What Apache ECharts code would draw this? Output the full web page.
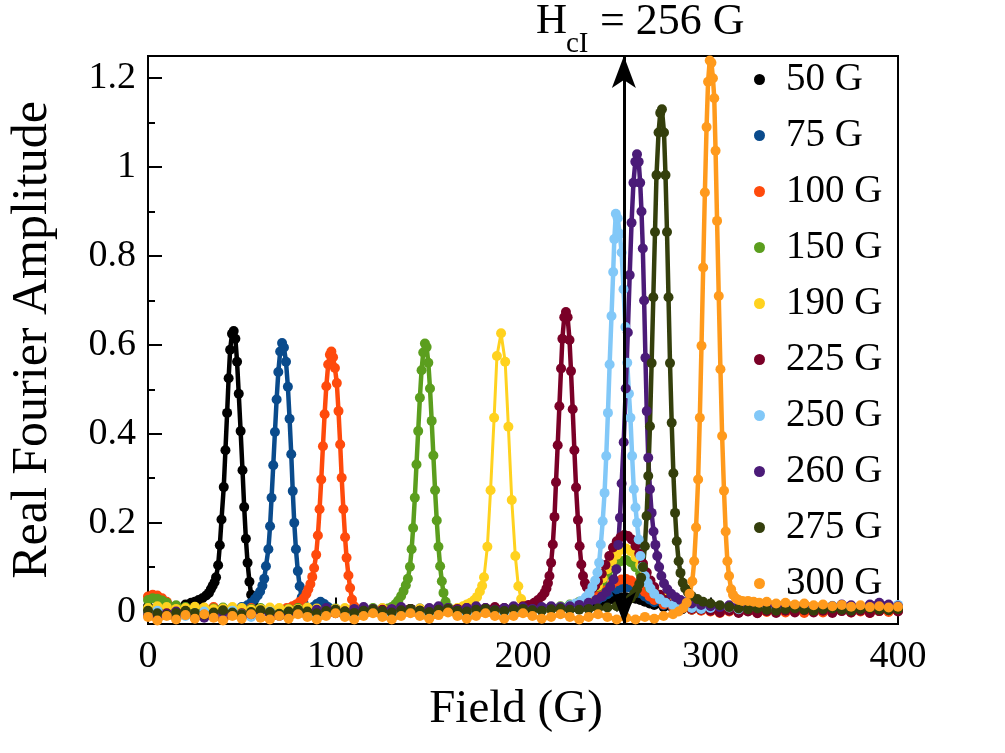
<!DOCTYPE html>
<html>
<head>
<meta charset="utf-8">
<script src="https://cdn.jsdelivr.net/npm/echarts@6/dist/echarts.min.js"></script>
<style>
  html, body { margin: 0; padding: 0; background: #fff; }
  #chart { width: 1005px; height: 753px; }
</style>
</head>
<body>
<div id="chart"></div>
<script>
var FONT = "'Liberation Serif', 'Times New Roman', serif";

var names = ['50 G', '75 G', '100 G', '150 G', '190 G', '225 G', '250 G', '260 G', '275 G', '300 G'];
var colors = ['#000000', '#0a4b8c', '#ff4a0c', '#5b9e1e', '#ffd21f', '#7a0027', '#82c8f8', '#4b1b78', '#343f0c', '#ff9a1c'];
var xTicks = [0, 100, 200, 300, 400];
var yTicks = [0, 0.2, 0.4, 0.6, 0.8, 1, 1.2];
var yMinorTicks = [0.1, 0.3, 0.5, 0.7, 0.9, 1.1];
var arrowField = 253.8;
var yMin = -0.028;
var yMax = 1.25;

var s50 = [[0,0.012],[5,0.008],[10,0.01],[15,0.012],[20,0.016],[23,0.02],[25,0.022],[27,0.026],[29,0.03],[31,0.036],[32.5,0.042],[33.5,0.05],[34.5,0.058],[35.5,0.066],[36.3,0.077],[37.4,0.104],[38.3,0.149],[39.2,0.207],[40.4,0.28],[41.3,0.363],[42.2,0.447],[43,0.525],[43.8,0.589],[44.8,0.625],[45.7,0.631],[46.6,0.614],[47.5,0.562],[48.4,0.49],[49.4,0.406],[50.4,0.318],[51.3,0.235],[52.2,0.164],[53.1,0.11],[54.1,0.067],[55,0.038],[56,0.018],[57,0.006],[58.5,0],[60,-0.004],[65,0.002],[70,0.004],[75,0.003],[80,0.005],[85,0.004],[90,0.006],[95,0.004],[100,0.005],[105,0.003],[110,0.004],[115,0.006],[120,0.005],[125,0.004],[130,0.006],[135,0.005],[140,0.003],[145,0.004],[150,0.005],[155,0.004],[160,0.006],[165,0.004],[170,0.003],[175,0.005],[180,0.004],[185,0.006],[190,0.005],[195,0.004],[200,0.003],[205,0.005],[210,0.004],[215,0.005],[220,0.006],[225,0.008],[230,0.01],[235,0.014],[240,0.019],[242.5,0.022],[245,0.025],[247.5,0.028],[250,0.03],[252.5,0.032],[255,0.032],[257.5,0.031],[260,0.029],[262.5,0.026],[265,0.022],[267.5,0.018],[270,0.015],[275,0.01],[280,0.007],[285,0.005],[290,0.004],[295,0.003],[300,0.004],[305,0.003],[310,0.004],[315,0.002],[320,0.003],[325,0.004],[330,0.002],[335,0.003],[340,0.004],[345,0.002],[350,0.003],[355,0.005],[360,0.003],[365,0.002],[370,0.004],[375,0.003],[380,0.002],[385,0.004],[390,0.003],[395,0.002],[400,0.003]];

var s75 = [[0,0.006],[5,0.01],[10,0.008],[15,0.004],[20,0.006],[25,0.009],[30,0.006],[35,0.004],[40,0.007],[45,0.006],[50,0.01],[53,0.014],[55,0.02],[57,0.028],[58.5,0.036],[59.8,0.045],[61,0.058],[62,0.074],[62.9,0.102],[64.2,0.14],[65.1,0.192],[65.9,0.256],[66.8,0.329],[67.7,0.404],[68.6,0.477],[69.5,0.539],[70.5,0.585],[71.5,0.604],[72.5,0.594],[73.6,0.562],[74.6,0.506],[75.5,0.434],[76.4,0.354],[77.2,0.271],[78,0.2],[78.9,0.14],[79.9,0.091],[80.9,0.057],[82,0.032],[83,0.018],[84.5,0.008],[86,0.005],[88,0.01],[90,0.017],[92,0.022],[94,0.017],[96,0.01],[98,0.004],[100,0.002],[105,0.004],[110,0.006],[115,0.003],[120,0.005],[125,0.007],[130,0.004],[135,0.002],[140,0.005],[145,0.007],[150,0.004],[155,0.003],[160,0.006],[165,0.004],[170,0.002],[175,0.005],[180,0.007],[185,0.004],[190,0.003],[195,0.006],[200,0.005],[205,0.003],[210,0.006],[215,0.005],[220,0.008],[225,0.01],[230,0.013],[235,0.019],[240,0.027],[242.5,0.033],[245,0.039],[247.5,0.045],[250,0.05],[252.5,0.054],[255,0.055],[257.5,0.053],[260,0.048],[262.5,0.041],[265,0.034],[267.5,0.027],[270,0.021],[275,0.014],[280,0.009],[285,0.007],[290,0.005],[295,0.004],[300,0.005],[305,0.003],[310,0.004],[315,0.006],[320,0.004],[325,0.003],[330,0.005],[335,0.004],[340,0.002],[345,0.004],[350,0.006],[355,0.003],[360,0.004],[365,0.006],[370,0.004],[375,0.002],[380,0.004],[385,0.005],[390,0.003],[395,0.004],[400,0.005]];

var s100 = [[0,0.034],[2.5,0.038],[5,0.036],[7.5,0.03],[10,0.022],[15,0.012],[20,0.006],[25,0.004],[30,0.008],[35,0.01],[40,0.006],[45,0.004],[50,0.006],[55,0.008],[60,0.005],[65,0.004],[70,0.006],[74,0.008],[77,0.012],[79,0.016],[81,0.022],[83,0.03],[84.5,0.04],[85.5,0.05],[86.6,0.062],[87.6,0.078],[88.6,0.098],[89.7,0.128],[90.6,0.171],[91.5,0.23],[92.4,0.297],[93.3,0.372],[94.2,0.444],[95.1,0.507],[96.1,0.556],[97,0.578],[97.8,0.585],[98.7,0.572],[99.7,0.548],[100.7,0.514],[101.6,0.451],[102.5,0.376],[103.3,0.301],[104.2,0.23],[105.1,0.167],[105.9,0.121],[106.9,0.081],[107.8,0.053],[108.8,0.027],[110,0.012],[111.5,0.004],[113,0],[115,-0.002],[120,0.003],[125,0.005],[130,0.002],[135,0.004],[140,0.006],[145,0.003],[150,0.001],[155,0.004],[160,0.006],[165,0.003],[170,0.002],[175,0.005],[180,0.006],[185,0.003],[190,0.002],[195,0.005],[200,0.006],[205,0.003],[210,0.004],[215,0.007],[220,0.009],[225,0.012],[230,0.016],[235,0.024],[240,0.036],[242.5,0.044],[245,0.053],[247.5,0.062],[250,0.068],[252.5,0.072],[255,0.073],[257.5,0.07],[260,0.063],[262.5,0.054],[265,0.044],[267.5,0.034],[270,0.026],[275,0.016],[280,0.01],[285,0.007],[290,0.004],[295,0.002],[300,0],[305,-0.003],[310,0],[315,-0.002],[320,0.001],[325,-0.003],[330,-0.001],[335,0.002],[340,-0.002],[345,0],[350,-0.003],[355,0.001],[360,-0.002],[365,0],[370,0.002],[375,-0.002],[380,0],[385,-0.003],[390,0.001],[395,-0.001],[400,0.002]];

var s150 = [[0,0.026],[2.5,0.03],[5,0.029],[7.5,0.025],[10,0.02],[15,0.014],[20,0.01],[25,0.006],[30,0.004],[35,0.007],[40,0.009],[45,0.005],[50,0.003],[55,0.006],[60,0.008],[65,0.005],[70,0.003],[75,0.006],[80,0.008],[85,0.004],[90,0.002],[95,0.005],[100,0.007],[105,0.004],[110,0.003],[115,0.006],[120,0.008],[125,0.005],[128,0.007],[130,0.01],[132,0.017],[133.5,0.025],[135,0.035],[136.3,0.046],[137.5,0.059],[138.6,0.074],[139.7,0.101],[140.6,0.14],[141.4,0.188],[142.3,0.256],[143.2,0.331],[144.1,0.406],[145,0.481],[145.9,0.543],[146.8,0.583],[147.7,0.603],[148.6,0.595],[149.5,0.56],[150.4,0.502],[151.3,0.429],[152.2,0.351],[153.1,0.273],[154,0.205],[154.9,0.146],[155.8,0.102],[156.7,0.068],[157.6,0.042],[158.7,0.022],[160,0.01],[162,0.004],[165,0.003],[170,0.005],[175,0.003],[180,0.002],[185,0.005],[190,0.006],[195,0.004],[200,0.003],[205,0.006],[210,0.008],[215,0.01],[220,0.012],[225,0.016],[230,0.022],[235,0.036],[240,0.056],[242.5,0.069],[245,0.083],[247.5,0.097],[250,0.107],[252.5,0.114],[255,0.116],[257.5,0.111],[260,0.1],[262.5,0.086],[265,0.069],[267.5,0.053],[270,0.041],[275,0.025],[280,0.016],[285,0.011],[290,0.008],[295,0.006],[300,0.007],[305,0.01],[310,0.008],[315,0.005],[320,0.008],[325,0.011],[330,0.008],[335,0.005],[340,0.008],[345,0.012],[350,0.009],[355,0.006],[360,0.009],[365,0.012],[370,0.009],[375,0.006],[380,0.01],[385,0.013],[390,0.01],[395,0.007],[400,0.01]];

var s190 = [[0,0.008],[5,0.012],[10,0.01],[15,0.006],[20,0.008],[25,0.011],[30,0.009],[35,0.005],[40,0.007],[45,0.01],[50,0.008],[55,0.004],[60,0.006],[65,0.009],[70,0.008],[75,0.005],[80,0.006],[85,0.009],[90,0.007],[95,0.004],[100,0.006],[105,0.008],[110,0.006],[115,0.003],[120,0.005],[125,0.008],[130,0.006],[135,0.004],[140,0.005],[145,0.007],[150,0.006],[155,0.004],[160,0.006],[165,0.008],[168,0.012],[170,0.016],[172,0.02],[174,0.026],[175.5,0.033],[177,0.045],[178.2,0.058],[179.2,0.077],[181,0.146],[182.7,0.273],[184.6,0.436],[186.1,0.575],[188.3,0.626],[190.5,0.562],[192.2,0.416],[194,0.251],[195.9,0.125],[197.5,0.057],[199,0.028],[200.5,0.013],[202,0.006],[205,0.003],[210,0.004],[215,0.006],[220,0.008],[225,0.012],[230,0.02],[235,0.034],[240,0.058],[242.5,0.075],[245,0.095],[247.5,0.113],[250,0.128],[252.5,0.139],[255,0.142],[257.5,0.136],[260,0.123],[262.5,0.105],[265,0.086],[267.5,0.068],[270,0.053],[275,0.033],[280,0.022],[285,0.016],[290,0.012],[295,0.01],[300,0.009],[310,0.008],[320,0.008],[330,0.007],[340,0.008],[350,0.007],[360,0.008],[370,0.007],[380,0.008],[390,0.007],[400,0.008]];

var s225 = [[0,-0.006],[5,-0.01],[10,-0.004],[15,-0.012],[20,-0.008],[25,-0.014],[30,-0.006],[35,-0.012],[40,-0.016],[45,-0.008],[50,-0.004],[55,-0.01],[60,-0.006],[65,-0.002],[70,-0.008],[75,-0.004],[80,0],[85,-0.006],[90,-0.002],[95,0.002],[100,-0.004],[105,0],[110,0.004],[115,-0.002],[120,0.002],[125,0.004],[130,0],[135,0.004],[140,0.006],[145,0.002],[150,0.005],[155,0.007],[160,0.004],[165,0.006],[170,0.008],[175,0.005],[180,0.008],[185,0.01],[190,0.008],[195,0.01],[200,0.012],[203,0.015],[206,0.02],[208,0.026],[210,0.034],[211.5,0.042],[212.5,0.052],[213.3,0.064],[214.1,0.08],[215,0.11],[215.9,0.151],[216.8,0.213],[217.6,0.291],[218.5,0.374],[219.4,0.462],[220.3,0.547],[221,0.614],[222,0.662],[222.9,0.674],[223.8,0.662],[224.8,0.611],[225.6,0.541],[226.5,0.455],[227.4,0.363],[228.3,0.279],[229.3,0.206],[230.2,0.147],[231.1,0.106],[232,0.08],[233,0.064],[234,0.055],[235.5,0.05],[237,0.052],[238.5,0.058],[240,0.068],[242,0.085],[244,0.105],[246,0.125],[248,0.144],[250,0.158],[252,0.167],[254,0.172],[256,0.17],[258,0.162],[260,0.148],[262,0.13],[264,0.108],[266,0.088],[268,0.07],[270,0.055],[273,0.038],[276,0.026],[280,0.016],[285,0.01],[290,0.006],[295,0.004],[300,0.002],[305,-0.002],[310,0.002],[315,-0.003],[320,0],[325,-0.004],[330,0.001],[335,-0.003],[340,0.002],[345,-0.002],[350,0.003],[355,-0.002],[360,0.002],[365,-0.003],[370,0.001],[375,-0.002],[380,0.002],[385,-0.003],[390,0.001],[395,0.003],[400,0]];

var s250 = [[0,-0.004],[5,0.002],[10,-0.008],[15,-0.002],[20,-0.01],[25,-0.004],[30,0],[35,-0.008],[40,-0.003],[45,0.002],[50,-0.006],[55,-0.012],[60,-0.004],[65,0],[70,-0.006],[75,-0.002],[80,0.003],[85,-0.004],[90,-0.008],[95,-0.002],[100,0.002],[105,-0.003],[110,-0.006],[115,0],[120,0.004],[125,-0.002],[130,-0.005],[135,0.001],[140,0.004],[145,-0.001],[150,-0.004],[155,0.002],[160,0.005],[165,0],[170,-0.003],[175,0.002],[180,0.005],[185,0.001],[190,-0.002],[195,0.003],[200,0.005],[205,0.004],[210,0.006],[215,0.008],[220,0.01],[225,0.014],[228,0.018],[231,0.024],[233.5,0.032],[235.5,0.042],[237,0.055],[238.5,0.07],[239.7,0.088],[240.6,0.11],[241.5,0.151],[242.5,0.203],[243.5,0.267],[244.4,0.35],[245.3,0.447],[246.2,0.556],[247.2,0.665],[248.1,0.764],[248.7,0.838],[249.5,0.895],[250.5,0.885],[251.6,0.85],[252.6,0.808],[253.6,0.725],[254.6,0.64],[255.6,0.56],[256.5,0.49],[257.3,0.436],[258.2,0.35],[259.1,0.275],[260,0.234],[260.8,0.2],[261.7,0.162],[262.6,0.125],[263.6,0.1],[265,0.08],[266.5,0.064],[268,0.052],[270,0.04],[273,0.028],[276,0.02],[280,0.014],[285,0.01],[290,0.008],[295,0.006],[300,0.008],[305,0.012],[310,0.009],[315,0.005],[320,0.008],[325,0.012],[330,0.009],[335,0.005],[340,0.009],[345,0.012],[350,0.008],[355,0.005],[360,0.009],[365,0.013],[370,0.009],[375,0.006],[380,0.01],[385,0.013],[390,0.009],[395,0.012],[400,0.015]];

var s260 = [[0,-0.008],[5,-0.012],[10,-0.006],[15,0],[20,-0.004],[25,-0.01],[30,-0.014],[35,-0.008],[40,-0.002],[45,-0.006],[50,-0.012],[55,-0.006],[60,0],[65,-0.004],[70,-0.01],[75,-0.004],[80,0.002],[85,-0.002],[90,0.004],[95,0.008],[100,0.004],[105,0],[110,0.006],[115,0.01],[120,0.006],[125,0.002],[130,0.006],[135,0.01],[140,0.006],[145,0.002],[150,0.008],[155,0.012],[160,0.008],[165,0.004],[170,0.008],[175,0.012],[180,0.008],[185,0.004],[190,0.008],[195,0.012],[200,0.01],[205,0.006],[210,0.01],[215,0.012],[220,0.01],[225,0.012],[230,0.015],[235,0.02],[239,0.026],[242,0.034],[244.5,0.044],[246.5,0.056],[248.3,0.072],[249.8,0.095],[250.8,0.15],[251.7,0.211],[252.6,0.288],[253.7,0.381],[254.8,0.502],[255.9,0.628],[256.9,0.757],[257.9,0.875],[258.9,0.965],[259.9,1.012],[260.8,1.029],[261.7,1.012],[262.5,0.965],[263.2,0.9],[263.9,0.817],[264.6,0.7],[265.3,0.571],[266,0.451],[266.8,0.346],[267.7,0.275],[268.6,0.222],[269.6,0.18],[270.6,0.15],[271.6,0.125],[272.6,0.1],[273.8,0.08],[275.2,0.063],[277,0.05],[279,0.04],[281.5,0.032],[284,0.026],[287,0.021],[290,0.018],[295,0.015],[300,0.012],[305,0.01],[310,0.014],[315,0.012],[320,0.008],[325,0.012],[330,0.016],[335,0.012],[340,0.008],[345,0.012],[350,0.016],[355,0.012],[360,0.008],[365,0.012],[370,0.016],[375,0.014],[380,0.01],[385,0.016],[390,0.02],[395,0.016],[400,0.012]];

var s275 = [[0,0.002],[5,-0.004],[10,-0.008],[15,-0.003],[20,0.002],[25,-0.003],[30,-0.007],[35,-0.002],[40,0.003],[45,-0.002],[50,-0.006],[55,-0.001],[60,0.003],[65,-0.001],[70,-0.005],[75,0],[80,0.004],[85,0],[90,-0.004],[95,0.001],[100,0.004],[105,0],[110,-0.003],[115,0.002],[120,0.005],[125,0.001],[130,-0.002],[135,0.003],[140,0.006],[145,0.002],[150,-0.001],[155,0.004],[160,0.006],[165,0.002],[170,0],[175,0.004],[180,0.006],[185,0.003],[190,0.001],[195,0.005],[200,0.006],[205,0.003],[210,0.002],[215,0.005],[220,0.007],[225,0.004],[230,0.004],[235,0.006],[240,0.007],[245,0.009],[250,0.012],[253,0.016],[255.5,0.022],[257.5,0.03],[259.3,0.04],[260.8,0.05],[262,0.062],[263,0.076],[264,0.1],[265,0.147],[265.9,0.215],[266.8,0.305],[267.7,0.417],[268.6,0.559],[269.5,0.707],[270.4,0.854],[271.2,0.982],[272.3,1.078],[273.2,1.122],[274.1,1.13],[275.2,1.078],[276,0.982],[276.8,0.854],[277.6,0.707],[278.4,0.559],[279.3,0.425],[280.2,0.311],[281.1,0.222],[282,0.158],[283,0.113],[284,0.087],[285.2,0.065],[286.5,0.052],[288,0.043],[290,0.035],[293,0.028],[296,0.022],[300,0.018],[305,0.014],[310,0.01],[315,0.007],[320,0.005],[325,0.007],[330,0.004],[335,0.002],[340,0.005],[345,0.007],[350,0.004],[355,0.002],[360,0.005],[365,0.007],[370,0.004],[375,0.002],[380,0.005],[385,0.007],[390,0.004],[395,0.003],[400,0.005]];

var s300 = [[0,-0.012],[5,-0.02],[10,-0.01],[15,-0.018],[20,-0.008],[25,-0.016],[30,-0.006],[35,-0.014],[40,-0.02],[45,-0.01],[50,-0.016],[55,-0.006],[60,-0.014],[65,-0.018],[70,-0.01],[75,-0.016],[80,-0.006],[85,-0.012],[90,-0.018],[95,-0.01],[100,-0.004],[105,-0.012],[110,-0.018],[115,-0.01],[120,-0.004],[125,-0.012],[130,-0.018],[135,-0.01],[140,-0.004],[145,-0.01],[150,-0.016],[155,-0.008],[160,-0.002],[165,-0.01],[170,-0.016],[175,-0.01],[180,-0.004],[185,-0.01],[190,-0.016],[195,-0.01],[200,-0.004],[205,-0.01],[210,-0.016],[215,-0.012],[220,-0.006],[225,-0.012],[230,-0.018],[235,-0.012],[240,-0.006],[245,-0.012],[250,-0.018],[255,-0.014],[260,-0.018],[265,-0.012],[270,-0.016],[275,-0.01],[280,-0.006],[283,0],[285.5,0.008],[287.3,0.02],[288.8,0.04],[290.3,0.068],[291.3,0.113],[292.3,0.189],[293.4,0.297],[294.3,0.436],[295.2,0.598],[296.1,0.774],[297,0.943],[297.9,1.09],[298.7,1.192],[299.6,1.24],[300.5,1.235],[301.3,1.2],[302,1.155],[302.7,1.037],[303.5,0.879],[304.4,0.71],[305.3,0.545],[306.2,0.395],[307.2,0.272],[308.1,0.18],[309,0.113],[309.9,0.08],[311,0.05],[312,0.038],[313.5,0.03],[315,0.026],[317,0.024],[320,0.024],[323,0.022],[326,0.02],[330,0.022],[335,0.018],[340,0.02],[345,0.016],[350,0.018],[355,0.014],[360,0.016],[365,0.012],[370,0.015],[375,0.011],[380,0.014],[385,0.01],[390,0.012],[395,0.009],[400,0.011]];

var seriesData = [s50, s75, s100, s150, s190, s225, s250, s260, s275, s300];

var chart = echarts.init(document.getElementById('chart'), null, { renderer: 'canvas' });

var series = seriesData.map(function (d, i) {
  return {
    name: names[i],
    type: 'line',
    data: d,
    symbol: 'circle',
    symbolSize: 10,
    showAllSymbol: true,
    clip: true,
    lineStyle: { width: i === 4 ? 3 : 4.5, color: colors[i] },
    itemStyle: { color: colors[i] },
    emphasis: { disabled: true },
    z: 2
  };
});

// double arrow marking H_cI (ends kept inside the axis range, or the marker gets dropped)
series.push({
  name: 'arrow',
  type: 'line',
  data: [],
  clip: false,
  silent: true,
  z: 5,
  markLine: {
    silent: true,
    animation: false,
    symbol: ['arrow', 'arrow'],
    symbolSize: [18, 32],
    label: { show: false },
    lineStyle: { color: '#000', width: 3, type: 'solid' },
    emphasis: { disabled: true },
    data: [[{ coord: [arrowField, yMin + 0.0001] }, { coord: [arrowField, yMax - 0.0001] }]]
  }
});

var tickStyle = { color: '#000', width: 2 };

var option = {
  animation: false,
  backgroundColor: '#fff',
  grid: {
    left: 142, top: 56, width: 756, height: 568,
    show: true, borderColor: '#000', borderWidth: 2
  },
  legend: {
    data: names,
    orient: 'vertical',
    left: 754,
    top: 60,
    padding: 0,
    icon: 'circle',
    itemWidth: 11,
    itemHeight: 11,
    itemGap: 17,
    selectedMode: false,
    textStyle: { fontFamily: FONT, fontSize: 39, color: '#000', padding: [0, 0, 0, 16] }
  },
  xAxis: [{
    type: 'value',
    min: 0, max: 400, interval: 100,
    axisLine: { show: false },
    axisTick: { inside: true, length: 14, lineStyle: tickStyle },
    minorTick: { show: true, splitNumber: 2, length: 7, lineStyle: tickStyle },
    axisLabel: { fontFamily: FONT, fontSize: 38, color: '#000', margin: 14 },
    splitLine: { show: false },
    name: 'Field (G)',
    nameLocation: 'middle',
    nameGap: 62,
    nameTextStyle: { fontFamily: FONT, fontSize: 47, color: '#000', padding: [0, 14, 0, 0] }
  }],
  yAxis: [{
    type: 'value',
    min: yMin, max: yMax,
    axisLine: { show: false },
    axisTick: { inside: true, length: 14, lineStyle: tickStyle, customValues: yTicks },
    axisLabel: { fontFamily: FONT, fontSize: 38, color: '#000', margin: 12, customValues: yTicks },
    splitLine: { show: false },
    name: 'Real Fourier Amplitude',
    nameLocation: 'middle',
    nameGap: 90,
    nameTextStyle: { fontFamily: FONT, fontSize: 50, color: '#000' }
  }, {
    type: 'value',
    min: yMin, max: yMax,
    position: 'left',
    axisLine: { show: false },
    axisTick: { inside: true, length: 7, lineStyle: tickStyle, customValues: yMinorTicks },
    axisLabel: { show: false },
    splitLine: { show: false }
  }],
  graphic: [
    { type: 'text', left: 536, top: 0, silent: true,
      style: { text: 'H', fontFamily: FONT, fontSize: 43, fill: '#000' } },
    { type: 'text', left: 566, top: 30, silent: true,
      style: { text: 'cI', fontFamily: FONT, fontSize: 29, fill: '#000' } },
    { type: 'text', left: 600, top: 0, silent: true,
      style: { text: '= 256 G', fontFamily: FONT, fontSize: 44, fill: '#000' } }
  ],
  series: series
};

chart.setOption(option);
</script>
</body>
</html>
